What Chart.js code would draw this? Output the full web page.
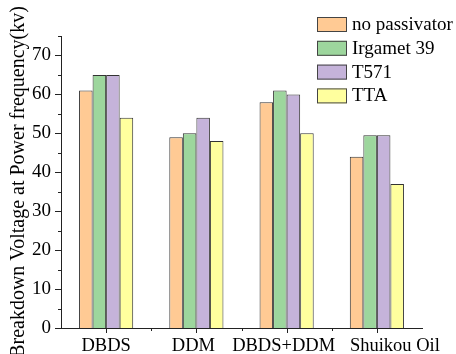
<!DOCTYPE html>
<html>
<head>
<meta charset="utf-8">
<script src="https://cdn.jsdelivr.net/npm/chart.js@4"></script>
<style>
  html, body { margin: 0; padding: 0; background: #fff; }
  #wrap { width: 456px; height: 354px; }
</style>
</head>
<body>
<div id="wrap"><canvas id="chart" width="456" height="354"></canvas></div>
<script>
// --- data ---
const categories = ['DBDS', 'DDM', 'DBDS+DDM', 'Shuikou Oil'];
const noPassivator = [61, 49, 58, 44];
const irgamet39 = [65, 50, 61, 49.5];
const t571 = [65, 54, 60, 49.5];
const tta = [54, 48, 50, 37];
const seriesNames = ['no passivator', 'Irgamet 39', 'T571', 'TTA'];
const seriesColors = ['#FFCA94', '#9DD69D', '#C5B3DA', '#FFFF9E'];
const yTicks = [0, 10, 20, 30, 40, 50, 60, 70];

const serif = "'Liberation Serif', 'DejaVu Serif', serif";

// legend inside the plot, outward ticks and category labels
const extras = {
  id: 'extras',
  afterDraw(chart) {
    const ctx = chart.ctx;
    const x = chart.scales.x, y = chart.scales.y;
    ctx.save();
    ctx.strokeStyle = '#222';
    ctx.lineWidth = 1;
    // y ticks: major every 10, minor every 5
    for (let v = 0; v <= 75; v += 5) {
      const py = Math.round(y.getPixelForValue(v)) + 0.5;
      const len = v % 10 === 0 ? 6 : 3;
      ctx.beginPath();
      ctx.moveTo(x.left - len, py);
      ctx.lineTo(x.left, py);
      ctx.stroke();
    }
    // x ticks at category centres and boundaries
    const bottom = y.bottom;
    for (let i = 0; i < categories.length; i++) {
      const cx = Math.round(x.getPixelForValue(i)) + 0.5;
      ctx.beginPath(); ctx.moveTo(cx, bottom); ctx.lineTo(cx, bottom + 5); ctx.stroke();
      if (i > 0) {
        const bx = Math.round((x.getPixelForValue(i) + x.getPixelForValue(i - 1)) / 2) + 0.5;
        ctx.beginPath(); ctx.moveTo(bx, bottom); ctx.lineTo(bx, bottom + 3); ctx.stroke();
      }
    }
    // category labels (last one sits right of its tick in the original)
    const shift = [0, -3, -3, 18];
    ctx.font = '18.5px ' + serif;
    ctx.fillStyle = '#000';
    ctx.textAlign = 'center';
    ctx.textBaseline = 'alphabetic';
    categories.forEach((c, i) => ctx.fillText(c, x.getPixelForValue(i) + shift[i], 351));
    // legend
    ctx.font = '19px ' + serif;
    ctx.textAlign = 'left';
    ctx.textBaseline = 'middle';
    seriesNames.forEach((name, i) => {
      const top = 17 + i * 23.8;
      ctx.fillStyle = seriesColors[i];
      ctx.fillRect(317, top, 30, 15);
      ctx.strokeStyle = '#444';
      ctx.strokeRect(317.5, top + 0.5, 29, 14);
      ctx.fillStyle = '#000';
      ctx.fillText(name, 352, top + 8);
    });
    ctx.restore();
  }
};

const data = [noPassivator, irgamet39, t571, tta];

new Chart(document.getElementById('chart'), {
  type: 'bar',
  data: {
    labels: categories,
    datasets: seriesNames.map((name, i) => ({
      label: name,
      data: data[i],
      backgroundColor: seriesColors[i],
      borderColor: '#333',
      borderWidth: 1,
      borderSkipped: 'bottom',
      barPercentage: 1,
      categoryPercentage: 0.6
    }))
  },
  options: {
    responsive: false,
    animation: false,
    events: [],
    layout: { padding: { top: 36, right: 34, left: 0, bottom: 0 } },
    plugins: { legend: { display: false }, tooltip: { enabled: false } },
    scales: {
      x: {
        grid: { display: false },
        border: { display: true, color: '#222', width: 1 },
        ticks: { display: false },
        afterFit(s) { s.height = 26; }
      },
      y: {
        min: 0,
        max: 75,
        afterBuildTicks(s) { s.ticks = yTicks.map(v => ({ value: v })); },
        grid: { display: false, drawTicks: false },
        border: { display: true, color: '#222', width: 1 },
        ticks: { color: '#000', font: { family: serif, size: 19 }, padding: 10 },
        title: {
          display: true,
          text: 'Breakdown Voltage at Power frequency(kv)',
          color: '#000',
          font: { family: serif, size: 20 },
          padding: { top: 7, bottom: 0 }
        },
        afterFit(s) { s.width = 61; }
      }
    }
  },
  plugins: [extras]
});
</script>
</body>
</html>
